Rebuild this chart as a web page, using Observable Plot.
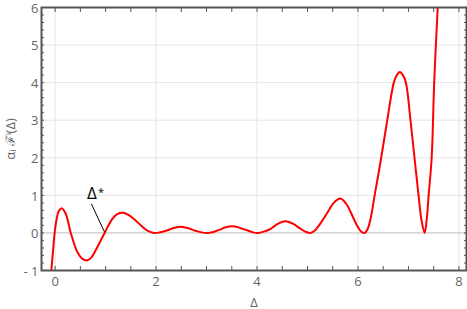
<!DOCTYPE html>
<html>
<head>
<meta charset="utf-8">
<script src="https://cdn.jsdelivr.net/npm/d3@7"></script>
<script src="https://cdn.jsdelivr.net/npm/@observablehq/plot@0.6"></script>
<style>
  html, body { margin: 0; padding: 0; background: #fff; }
  #chart { width: 467px; height: 309px; }
</style>
</head>
<body>
<div id="chart"></div>
<script>
// Curve values
const curveX = [-0.075, -0.035, -0.01, 0.03, 0.07, 0.13, 0.21, 0.31, 0.44, 0.54, 0.64, 0.72, 0.80, 0.98,
  1.13, 1.23, 1.34, 1.45, 1.56, 1.70, 1.83, 1.96, 2.06, 2.20, 2.35, 2.48, 2.62, 2.78, 2.90, 3.01,
  3.12, 3.25, 3.38, 3.51, 3.65, 3.80, 3.92, 4.03, 4.15, 4.27, 4.42, 4.57, 4.72, 4.85, 4.97, 5.05,
  5.14, 5.27, 5.39, 5.52, 5.65, 5.77, 5.87, 5.98, 6.06, 6.13, 6.19, 6.25, 6.33, 6.46, 6.58, 6.71,
  6.77, 6.83, 6.89, 6.95, 7.04, 7.12, 7.20, 7.26, 7.32, 7.36, 7.40, 7.46, 7.51, 7.58, 7.60];
const curveY = [-1.0, -0.38, 0.0, 0.37, 0.58, 0.66, 0.51, 0.0, -0.51, -0.69, -0.73, -0.65, -0.47, 0.0,
  0.37, 0.50, 0.535, 0.48, 0.37, 0.20, 0.06, 0.0, 0.01, 0.06, 0.13, 0.165, 0.13, 0.06, 0.015, 0.0,
  0.02, 0.08, 0.15, 0.175, 0.14, 0.07, 0.015, 0.0, 0.04, 0.11, 0.25, 0.31, 0.24, 0.12, 0.025, 0.0,
  0.06, 0.28, 0.53, 0.80, 0.915, 0.77, 0.51, 0.20, 0.04, 0.0, 0.10, 0.38, 1.0, 2.0, 3.0, 4.0,
  4.2, 4.28, 4.2, 4.0, 3.0, 2.0, 1.0, 0.33, 0.0, 0.33, 1.0, 2.0, 4.0, 6.0, 6.4];

const xMajorTicks = [0, 2, 4, 6, 8];
const xMinorTicks = [0, 0.5, 1, 1.5, 2, 2.5, 3, 3.5, 4, 4.5, 5, 5.5, 6, 6.5, 7, 7.5, 8];
const yMajorTicks = [-1, 0, 1, 2, 3, 4, 5, 6];
const yMinorTicks = d3.range(-1, 6.001, 0.2).map(v => Math.round(v * 10) / 10);

const annotationMain = ["Δ"];
const annotationSup = ["*"];
const annotationPos = {x: 0.73, y: 1.05};
const annotationLine = {x1: 0.717, y1: 0.775, x2: 0.98, y2: 0.02};

const xLabel = "Δ";
const yLabel = "αᵢ ℱⁱ(Δ)";

const data = curveX.map((x, i) => ({x, y: curveY[i]}));

const chart = Plot.plot({
  width: 467,
  height: 309,
  marginLeft: 41,
  marginRight: 1,
  marginTop: 7,
  marginBottom: 39,
  style: {fontFamily: "'Open Sans', sans-serif", fontSize: "13px", background: "#fff"},
  x: {domain: [-0.27, 8.15]},
  y: {domain: [-1, 6]},
  marks: [
    Plot.gridX([0, 2, 4, 6, 8], {stroke: "#e6e6e6", strokeOpacity: 1}),
    Plot.gridY([1, 2, 3, 4, 5, 6], {stroke: "#e6e6e6", strokeOpacity: 1}),
    Plot.ruleY([0], {stroke: "#bbb", strokeWidth: 1}),
    Plot.line(data, {x: "x", y: "y", stroke: "#ff0000", strokeWidth: 2, curve: "catmull-rom", clip: true}),
    Plot.link([annotationLine], {x1: "x1", y1: "y1", x2: "x2", y2: "y2", stroke: "#000", strokeWidth: 1}),
    Plot.text(annotationMain, {x: () => annotationPos.x, y: () => annotationPos.y, text: d => d, fontSize: 17, fill: "#000", textAnchor: "middle"}),
    Plot.text(annotationSup, {x: () => annotationPos.x, y: () => annotationPos.y, text: d => d, fontSize: 11, fill: "#000", textAnchor: "middle", dx: 9, dy: -1}),
    Plot.axisX(xMinorTicks, {anchor: "bottom", tickSize: -4, tickFormat: () => "", label: null, stroke: "#555"}),
    Plot.axisX(xMinorTicks, {anchor: "top", tickSize: -4, tickFormat: () => "", label: null, stroke: "#555"}),
    Plot.axisX(xMajorTicks, {anchor: "bottom", tickSize: 0, tickPadding: 6, fill: "#666", fontSize: 13,
      label: xLabel, labelAnchor: "center", labelArrow: "none", labelOffset: 36}),
    Plot.axisY(yMinorTicks, {anchor: "left", tickSize: -3, tickFormat: () => "", label: null, stroke: "#555"}),
    Plot.axisY(yMinorTicks, {anchor: "right", tickSize: -3, tickFormat: () => "", label: null, stroke: "#555"}),
    Plot.axisY(yMajorTicks, {anchor: "left", tickSize: 0, tickPadding: 3, fill: "#666", fontSize: 13, dy: 1,
      tickFormat: d => d < 0 ? "- " + Math.abs(d) : String(d),
      label: yLabel, labelAnchor: "center", labelArrow: "none", labelOffset: 36}),
    Plot.frame({stroke: "#555", strokeWidth: 2})
  ]
});
document.getElementById("chart").appendChild(chart);
</script>
</body>
</html>
